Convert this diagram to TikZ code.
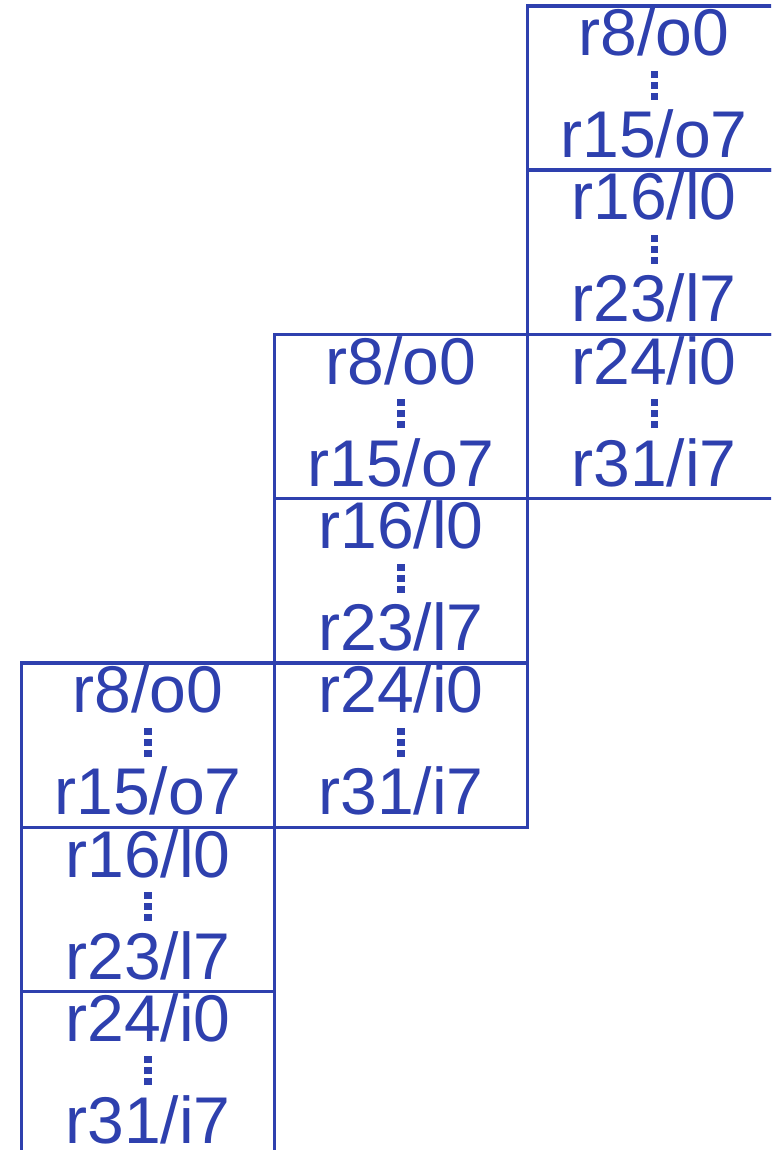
\documentclass[tikz,border=0pt]{standalone}
\usepackage{fontspec}
\setmainfont{Liberation Sans}
\usetikzlibrary{positioning}
\definecolor{regblue}{RGB}{46,64,174}
\newcommand{\regdots}{\raisebox{2pt}{\vbox{\hrule width 2pt height 2pt\vskip 1.13pt\hrule width 2pt height 2pt\vskip 1.13pt\hrule width 2pt height 2pt}}}
\newcommand{\regtext}[2]{#1\\\regdots\\#2\rule[-3pt]{0pt}{0pt}}

\begin{document}
\begin{tikzpicture}[
    regs/.style={
        draw=regblue,
        text=regblue,
        rectangle,
        line width=0.95pt,
        minimum width=2.53cm,
        minimum height=1.643cm,
        inner sep=0pt,
        outer sep=0pt,
        align=center,
        font=\fontsize{18.8}{14.5}\selectfont
    },
    node distance=0pt
]
\clip (0,0) rectangle (7.71,-11.5);

% Window 1 (top right)
\node[regs] at (6.54,-0.88) (w1out) {\regtext{r8/o0}{r15/o7}};
\node[regs, below=of w1out] (w1loc) {\regtext{r16/l0}{r23/l7}};
\node[regs, below=of w1loc] (w1in)  {\regtext{r24/i0}{r31/i7}};

% Window 2 (middle)
\node[regs, left=of w1in]   (w2out) {\regtext{r8/o0}{r15/o7}};
\node[regs, below=of w2out] (w2loc) {\regtext{r16/l0}{r23/l7}};
\node[regs, below=of w2loc] (w2in)  {\regtext{r24/i0}{r31/i7}};

% Window 3 (bottom left)
\node[regs, left=of w2in]   (w3out) {\regtext{r8/o0}{r15/o7}};
\node[regs, below=of w3out] (w3loc) {\regtext{r16/l0}{r23/l7}};
\node[regs, below=of w3loc] (w3in)  {\regtext{r24/i0}{r31/i7}};

\end{tikzpicture}
\end{document}
